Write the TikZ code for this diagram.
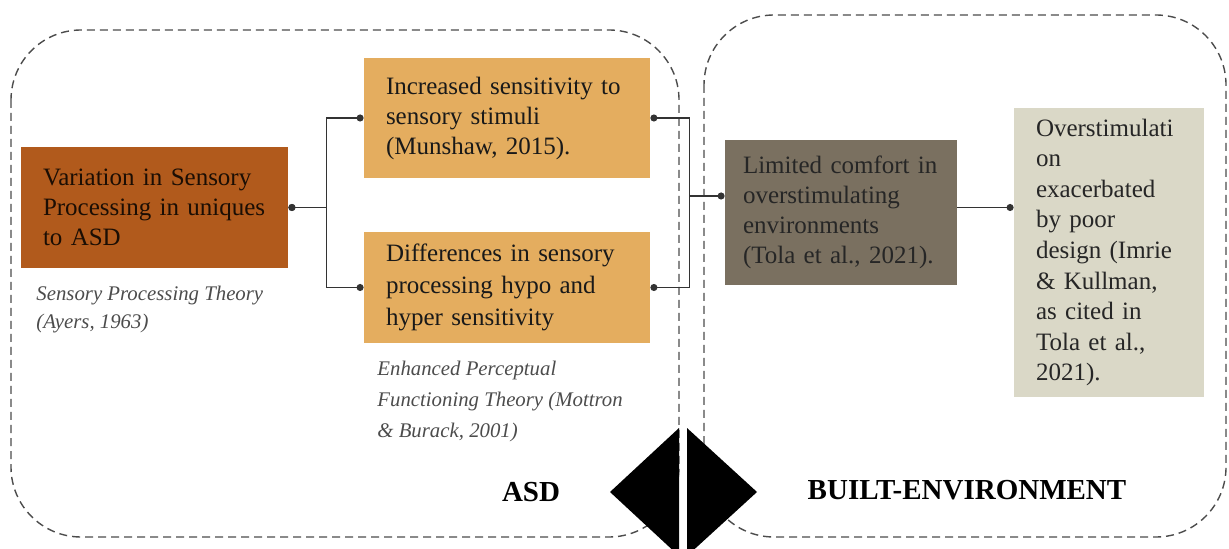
\documentclass[tikz,border=0pt]{standalone}
\usepackage{fontspec}
\setmainfont{Liberation Serif}
\usetikzlibrary{arrows.meta}

\definecolor{rust}{HTML}{B15A1C}
\definecolor{sand}{HTML}{E4AD5F}
\definecolor{taupe}{HTML}{7A7060}
\definecolor{stone}{HTML}{DAD8C7}

\tikzset{
    box/.style={align=left, inner xsep=11pt, inner ysep=0pt, font=\fontsize{12.5}{15}\selectfont},
    zone/.style={draw=black!70, dash pattern=on 4pt off 2.5pt, line width=0.7pt, rounded corners=35pt},
    link/.style={draw=black!80, line width=0.7pt},
    dots/.style={link, {Circle[length=3.5pt]}-{Circle[length=3.5pt]}},
    note/.style={align=left, anchor=north west, inner sep=0pt, text=black!70, font=\fontsize{10.4}{14}\selectfont\itshape},
    zonetitle/.style={font=\fontsize{14.5}{16}\selectfont\bfseries}
}

\begin{document}
\begin{tikzpicture}[x=0.5pt, y=-0.5pt]
    \useasboundingbox (0,0) rectangle (1229,549);

    \draw[zone] (11,30) rectangle (679,537);
    \draw[zone] (704,15) rectangle (1226,537);

    \node[box, fill=rust, text=black!85!rust, text width=111.5pt, minimum height=60.5pt] (var) at (154.5,207.5)
        {Variation in Sensory\\Processing in uniques\\to ASD};
    \node[box, fill=sand, text=black!90, text width=121pt, minimum height=60pt] (inc) at (507,118)
        {Increased sensitivity to\\sensory stimuli\\(Munshaw, 2015).};
    \node[box, fill=sand, text=black!90, text width=121pt, minimum height=55.5pt, font=\fontsize{12.5}{16}\selectfont] (dif) at (507,287.5)
        {Differences in sensory\\processing hypo and\\hyper sensitivity};
    \node[box, fill=taupe, text=black!85, text width=98pt, inner xsep=9pt, minimum height=72.5pt] (lim) at (841,212.5)
        {Limited comfort in\\overstimulating\\environments\\(Tola et al., 2021).};
    \node[box, fill=stone, text=black!85, text width=73pt, minimum height=144.5pt, font=\fontsize{12.5}{15.3}\selectfont] (ovr) at (1109,252.5)
        {Overstimulati\\on\\exacerbated\\by poor\\design (Imrie\\\& Kullman,\\as cited in\\Tola et al.,\\2021).};

    \node[note] (spt) at (36,286) {Sensory Processing Theory\\(Ayers, 1963)};
    \node[note, font=\fontsize{10.4}{15.5}\selectfont\itshape] (epf) at (377,361)
        {Enhanced Perceptual\\Functioning Theory (Mottron\\\& Burack, 2001)};

    \draw[dots] (var.east) -- ++(38,0) |- (inc.west);
    \draw[dots] (var.east) -- ++(38,0) |- (dif.west);
    \draw[dots] (inc.east) -- ++(39,0) |- (dif.east);
    \coordinate (jn) at (689,196);
    \draw[link, -{Circle[length=3.5pt]}] (jn) -- (jn -| lim.west);
    \draw[link, -{Circle[length=3.5pt]}] ([yshift=2.5pt]lim.east) -- ([yshift=2.5pt]lim.east -| ovr.west);

    \fill (679,428) -- (610,492) -- (679,556) -- cycle;
    \fill (687,428) -- (757,492) -- (687,556) -- cycle;

    \node[zonetitle] (asd) at (531,492) {ASD};
    \node[zonetitle] (be) at (967,490) {BUILT-ENVIRONMENT};
\end{tikzpicture}
\end{document}
